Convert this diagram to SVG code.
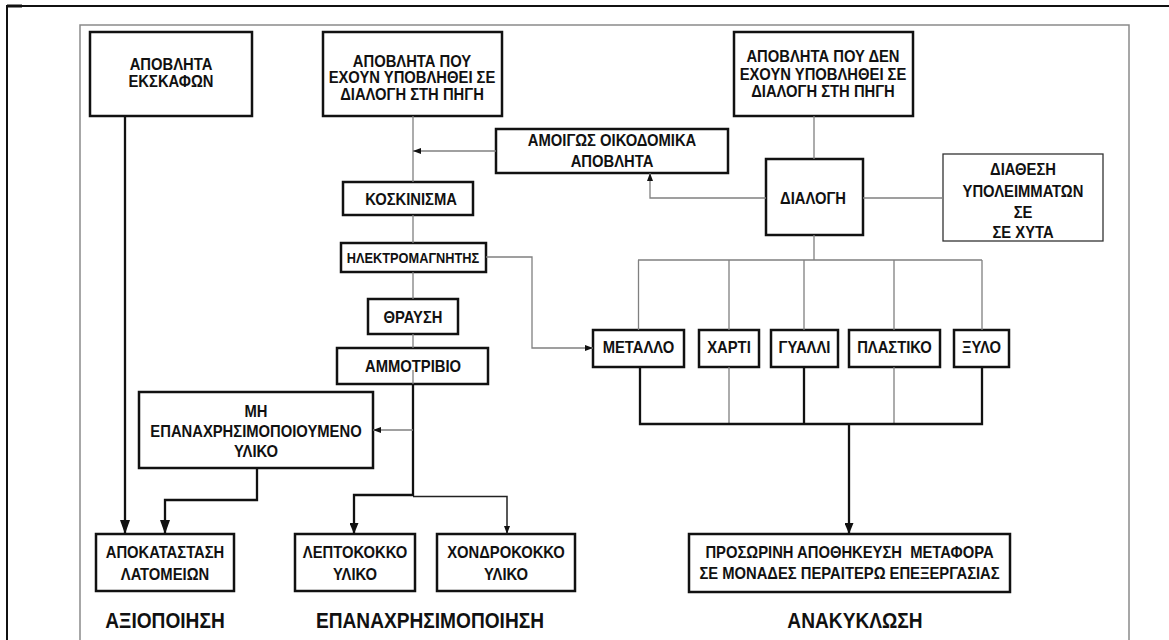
<svg xmlns="http://www.w3.org/2000/svg" width="1169" height="640" viewBox="0 0 1169 640">
<style>
.box{fill:#fff;stroke:#111;stroke-width:2.5}
.thin{fill:#fff;stroke:#333;stroke-width:1.3}
.t{font-family:"Liberation Sans",Arial,sans-serif;font-weight:bold;font-size:17px;fill:#111;text-anchor:middle;transform-box:fill-box;transform-origin:50% 50%;transform:scaleX(0.87)}
.s{font-size:14.7px}
.f{font-size:22px}
.g{fill:none;stroke:#808080;stroke-width:1.3}
.k{fill:none;stroke:#111;stroke-width:2.3}
.kt{fill:none;stroke:#222;stroke-width:1.5}
.frame{fill:none;stroke:#8a8a8a;stroke-width:1.5}
</style>
<defs>
<marker id="aL" markerUnits="userSpaceOnUse" viewBox="0 0 14 10" refX="14" refY="5" markerWidth="14" markerHeight="10" orient="auto"><path d="M0,0 L14,5 L0,10 z" fill="#111"/></marker>
<marker id="aM" markerUnits="userSpaceOnUse" viewBox="0 0 11 9" refX="11" refY="4.5" markerWidth="11" markerHeight="9" orient="auto"><path d="M0,0 L11,4.5 L0,9 z" fill="#111"/></marker>
<marker id="aS" markerUnits="userSpaceOnUse" viewBox="0 0 8 6" refX="8" refY="3" markerWidth="8" markerHeight="6" orient="auto"><path d="M0,0 L8,3 L0,6 z" fill="#111"/></marker>
</defs>
<rect width="1169" height="640" fill="#fff"/>
<g id="frame">
<line x1="7" y1="6" x2="1169" y2="6" stroke="#111" stroke-width="2"/>
<rect x="7" y="4.5" width="15" height="3" fill="#111"/>
<line x1="7" y1="5" x2="7" y2="640" stroke="#111" stroke-width="2"/>
<path class="frame" d="M80,640 V25 H1129 V640"/>
</g>
<g id="n_ekskafon"><rect class="box" x="90" y="32" width="162" height="84"/><text class="t" x="171" y="70">ΑΠΟΒΛΗΤΑ</text><text class="t" x="171" y="87">ΕΚΣΚΑΦΩΝ</text></g>
<g id="n_dialegmena"><rect class="box" x="323" y="32" width="179" height="84"/><text class="t" x="412" y="67">ΑΠΟΒΛΗΤΑ ΠΟΥ</text><text class="t" x="412" y="83.5">ΕΧΟΥΝ ΥΠΟΒΛΗΘΕΙ ΣΕ</text><text class="t" x="412" y="100">ΔΙΑΛΟΓΗ ΣΤΗ ΠΗΓΗ</text></g>
<g id="n_adialegta"><rect class="box" x="734" y="32" width="179" height="84"/><text class="t" x="823" y="62">ΑΠΟΒΛΗΤΑ ΠΟΥ ΔΕΝ</text><text class="t" x="823" y="80">ΕΧΟΥΝ ΥΠΟΒΛΗΘΕΙ ΣΕ</text><text class="t" x="823" y="97.5">ΔΙΑΛΟΓΗ ΣΤΗ ΠΗΓΗ</text></g>
<g id="n_amigos"><rect class="box" x="496" y="129" width="232" height="44"/><text class="t" x="612" y="146">ΑΜΟΙΓΩΣ ΟΙΚΟΔΟΜΙΚΑ</text><text class="t" x="612" y="167">ΑΠΟΒΛΗΤΑ</text></g>
<g id="n_koskinisma"><rect class="box" x="343" y="182" width="130" height="33"/><text class="t" x="411" y="205">ΚΟΣΚΙΝΙΣΜΑ</text></g>
<g id="n_dialogi"><rect class="box" x="766" y="159" width="97" height="76"/><text class="t" x="813" y="204">ΔΙΑΛΟΓΗ</text></g>
<g id="n_diathesi"><rect class="thin" x="943" y="154" width="160" height="87"/><text class="t" x="1023" y="175">ΔΙΑΘΕΣΗ</text><text class="t" x="1023" y="197">ΥΠΟΛΕΙΜΜΑΤΩΝ</text><text class="t" x="1023" y="218">ΣΕ</text><text class="t" x="1023" y="238">ΣΕ ΧΥΤΑ</text></g>
<g id="n_ilektro"><rect class="box" x="341" y="243" width="145" height="29"/><text class="t s" x="413" y="263">ΗΛΕΚΤΡΟΜΑΓΝΗΤΗΣ</text></g>
<g id="n_thrausi"><rect class="box" x="368" y="299" width="90" height="35"/><text class="t" x="413" y="323">ΘΡΑΥΣΗ</text></g>
<g id="n_ammotrivio"><rect class="box" x="337" y="348" width="151" height="36"/><text class="t" x="413" y="372">ΑΜΜΟΤΡΙΒΙΟ</text></g>
<g id="n_metallo"><rect class="box" x="593" y="330" width="91" height="37"/><text class="t" x="638.5" y="353">ΜΕΤΑΛΛΟ</text></g>
<g id="n_xarti"><rect class="box" x="699" y="330" width="60" height="37"/><text class="t" x="729" y="353">ΧΑΡΤΙ</text></g>
<g id="n_gyalli"><rect class="box" x="771" y="330" width="67" height="37"/><text class="t" x="804.5" y="353">ΓΥΑΛΛΙ</text></g>
<g id="n_plastiko"><rect class="box" x="849" y="330" width="91" height="37"/><text class="t" x="894.5" y="353">ΠΛΑΣΤΙΚΟ</text></g>
<g id="n_xylo"><rect class="box" x="954" y="330" width="55" height="37"/><text class="t" x="981.5" y="353">ΞΥΛΟ</text></g>
<g id="n_mi"><rect class="box" x="139" y="392" width="234" height="76"/><text class="t" x="256" y="417">ΜΗ</text><text class="t" x="256" y="437">ΕΠΑΝΑΧΡΗΣΙΜΟΠΟΙΟΥΜΕΝΟ</text><text class="t" x="256" y="457">ΥΛΙΚΟ</text></g>
<g id="n_apokatastasi"><rect class="box" x="96" y="534" width="138" height="57"/><text class="t" x="165" y="558">ΑΠΟΚΑΤΑΣΤΑΣΗ</text><text class="t" x="165" y="580">ΛΑΤΟΜΕΙΩΝ</text></g>
<g id="n_lepto"><rect class="box" x="295" y="534" width="120" height="57"/><text class="t" x="355" y="558">ΛΕΠΤΟΚΟΚΚΟ</text><text class="t" x="355" y="580">ΥΛΙΚΟ</text></g>
<g id="n_xondro"><rect class="box" x="437" y="534" width="138" height="57"/><text class="t" x="506" y="558">ΧΟΝΔΡΟΚΟΚΚΟ</text><text class="t" x="506" y="580">ΥΛΙΚΟ</text></g>
<g id="n_prosorini"><rect class="box" x="689" y="534" width="321" height="58"/><text class="t" x="849.5" y="558" style="white-space:pre">ΠΡΟΣΩΡΙΝΗ ΑΠΟΘΗΚΕΥΣΗ  ΜΕΤΑΦΟΡΑ</text><text class="t" x="849.5" y="579">ΣΕ ΜΟΝΑΔΕΣ ΠΕΡΑΙΤΕΡΩ ΕΠΕΞΕΡΓΑΣΙΑΣ</text></g>
<g id="labels">
<text class="t f" x="165" y="628">ΑΞΙΟΠΟΙΗΣΗ</text>
<text class="t f" x="430" y="628">ΕΠΑΝΑΧΡΗΣΙΜΟΠΟΙΗΣΗ</text>
<text class="t f" x="855" y="628">ΑΝΑΚΥΚΛΩΣΗ</text>
</g>
<g id="connectors">
<path class="g" d="M413,116 V182 M413,215 V243 M413,272 V299 M413,334 V348 M413,370 V384"/>
<path class="g" d="M496,151 H413" marker-end="url(#aS)"/>
<path class="g" d="M766,198 H650 V173" marker-end="url(#aS)"/>
<path class="g" d="M814,116 V159 M863,198 H943 M814,235 V260"/>
<path class="g" d="M638,260 H982 M638.5,260 V330 M729,260 V330 M804,260 V330 M894,260 V330 M982,260 V330"/>
<path class="g" d="M486,257 H532 V348 H593" marker-end="url(#aS)"/>
<path class="g" d="M729,367 V424 M894,367 V424"/>
<path class="k" d="M640,367 V424 H982 V367 M804,367 V424"/>
<path class="k" d="M849,424 V534" marker-end="url(#aM)"/>
<path class="k" d="M125,116 V534" marker-end="url(#aL)"/>
<path class="k" d="M257,468 V500 H165 V534" marker-end="url(#aL)"/>
<path class="k" d="M413,384 V496"/>
<path class="k" d="M413,495 H354 V534" marker-end="url(#aM)"/>
<path class="kt" d="M413,496.5 H507 V534" marker-end="url(#aS)"/>
<path class="g" d="M413,430 H373" marker-end="url(#aS)"/>
</g>
</svg>
